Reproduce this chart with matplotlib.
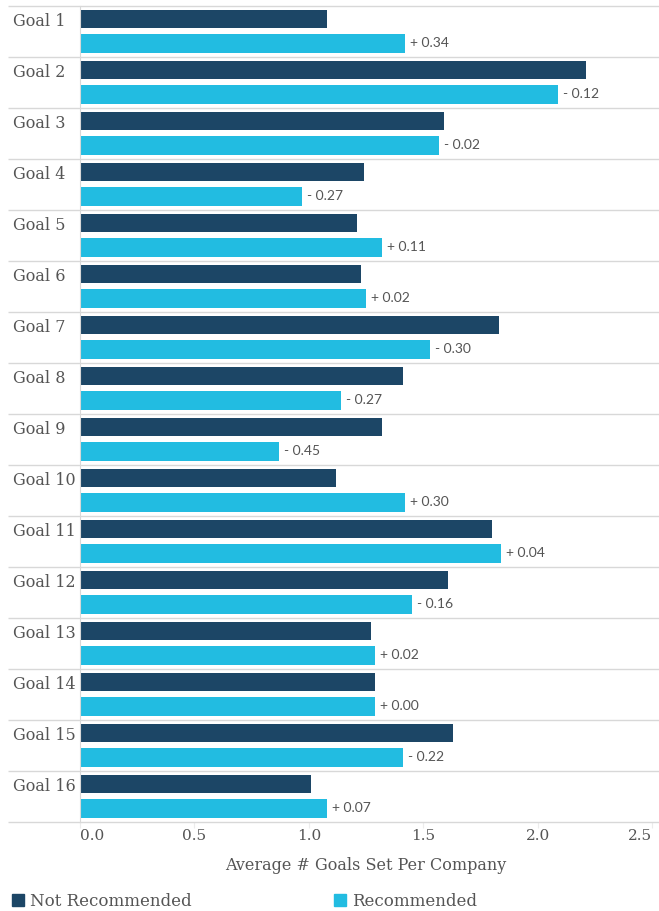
import numpy as np
import matplotlib
matplotlib.use("Agg")
from matplotlib import pyplot as plt
from matplotlib.patches import Patch

goals = [f"Goal {i}" for i in range(1, 17)]
not_recommended = [1.08, 2.21, 1.59, 1.24, 1.21, 1.23, 1.83, 1.41,
                   1.32, 1.12, 1.80, 1.61, 1.27, 1.29, 1.63, 1.01]
recommended = [1.42, 2.09, 1.57, 0.97, 1.32, 1.25, 1.53, 1.14,
               0.87, 1.42, 1.84, 1.45, 1.29, 1.29, 1.41, 1.08]
x_ticks = [0.0, 0.5, 1.0, 1.5, 2.0, 2.5]

dark = "#1c4666"
cyan = "#22bce1"
text_col = "#555555"
grid_col = "#d8d8d8"
serif = "DejaVu Serif"

fig = plt.figure(figsize=(6.59, 9.11), dpi=100)
ax = fig.add_axes([80 / 659, 1 - 822 / 911, 572 / 659, 816 / 911])

y = np.arange(len(goals))
bar_h = 0.36
ax.barh(y - 0.245, not_recommended, height=bar_h, color=dark, label="Not Recommended")
ax.barh(y + 0.235, recommended, height=bar_h, color=cyan, label="Recommended")

# change from "not recommended" to "recommended", written next to the cyan bar
for yi, a, b in zip(y, not_recommended, recommended):
    d = round(b - a, 2)
    sign = "+" if d >= 0 else "-"
    ax.text(b + 0.022, yi + 0.235, f"{sign} {abs(d):.2f}", va="center", ha="left",
            fontsize=10, color=text_col, family="Lato")

ax.set_xlim(0, 2.5)
ax.set_ylim(len(goals) - 0.5, -0.5)

# row separators run across the whole width, label column included
trans = ax.get_yaxis_transform()
ax.hlines(np.arange(-0.5, len(goals)), -0.126, 1.012, transform=trans,
          colors=grid_col, linewidth=1, clip_on=False)

for s in ["top", "right", "bottom"]:
    ax.spines[s].set_visible(False)
ax.spines["left"].set_color(grid_col)

ax.set_yticks(y - 0.245)
ax.set_yticklabels(goals, fontsize=11.5, color=text_col, family=serif, ha="left")
ax.tick_params(axis="y", length=0, pad=48)

ax.set_xticks(x_ticks)
ax.set_xticklabels([f"{t:.1f}" for t in x_ticks], fontsize=11, color=text_col, family=serif)
ax.tick_params(axis="x", length=4, color="#ececec", pad=1)
labels = ax.get_xticklabels()
labels[0].set_ha("left")
labels[-1].set_ha("right")

ax.set_xlabel("Average # Goals Set Per Company", fontsize=11.5, color=text_col,
              family=serif, labelpad=10)

handles = [Patch(color=dark, label="Not Recommended"), Patch(color=cyan, label="Recommended")]
fig.legend(handles=handles, loc="center left", bbox_to_anchor=(12 / 659, 1 - 901 / 911),
           ncol=2, frameon=False, handlelength=0.72, handleheight=0.72,
           handletextpad=0.35, columnspacing=8.55, borderaxespad=0, borderpad=0,
           prop={"family": serif, "size": 12}, labelcolor=text_col)

fig.savefig("out.png", dpi=100)
